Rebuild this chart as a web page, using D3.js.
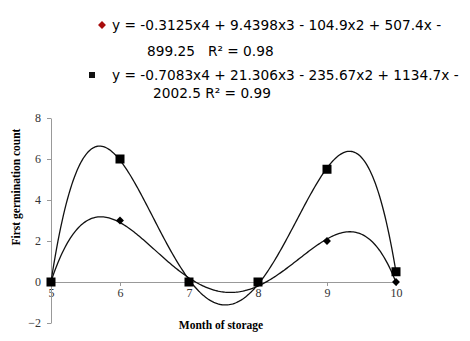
<!DOCTYPE html>
<html lang="en">
  <head>
    <meta charset="UTF-8" />
    <title>First germination count</title>
    <style>
      body { margin: 0; background: #fff; }
      svg { display: block; }
      text { white-space: pre; }
    </style>
  </head>
  <body>
    <svg width="470" height="341"></svg>

    <script src="https://d3js.org/d3.v7.min.js"></script>
    <script>
      (function () {
        "use strict";

        // data
        var months = [5, 6, 7, 8, 9, 10];
        var diamondValues = [0, 3, 0, 0, 2, 0];
        var squareValues = [0, 6, 0, 0, 5.5, 0.5];
        var yTicks = [-2, 0, 2, 4, 6, 8];
        var legendLines = [
          ["y = -0.3125x4 + 9.4398x3 - 104.9x2 + 507.4x -", "899.25   R² = 0.98"],
          ["y = -0.7083x4 + 21.306x3 - 235.67x2 + 1134.7x -", "2002.5 R² = 0.99"]
        ];

        var svg = d3.select("svg");

        var x = d3.scaleLinear().domain([5, 10]).range([51, 396]);
        var y = d3.scaleLinear().domain([-2, 8]).range([323, 118]);

        // polynomial (order 4) least squares trendline, like the spreadsheet one
        function polyFit(xs, ys, order) {
          var n = order + 1, c = 7.5;
          var A = [], i, j, k;
          for (i = 0; i < n; i++) {
            A.push([]);
            for (j = 0; j <= n; j++) A[i].push(0);
          }
          xs.forEach(function (xv, p) {
            var t = xv - c;
            for (i = 0; i < n; i++) {
              for (j = 0; j < n; j++) A[i][j] += Math.pow(t, i + j);
              A[i][n] += ys[p] * Math.pow(t, i);
            }
          });
          for (i = 0; i < n; i++) {
            var m = i;
            for (k = i + 1; k < n; k++) if (Math.abs(A[k][i]) > Math.abs(A[m][i])) m = k;
            var tmp = A[i]; A[i] = A[m]; A[m] = tmp;
            for (k = i + 1; k < n; k++) {
              var f = A[k][i] / A[i][i];
              for (j = i; j <= n; j++) A[k][j] -= f * A[i][j];
            }
          }
          var coef = new Array(n);
          for (i = n - 1; i >= 0; i--) {
            var s = A[i][n];
            for (j = i + 1; j < n; j++) s -= A[i][j] * coef[j];
            coef[i] = s / A[i][i];
          }
          return function (xv) {
            var t = xv - c, v = 0;
            for (var q = n - 1; q >= 0; q--) v = v * t + coef[q];
            return v;
          };
        }

        var grid = d3.range(5, 10.0001, 0.02);
        var line = d3.line()
          .x(function (d) { return x(d[0]); })
          .y(function (d) { return y(d[1]); });

        // axes
        var xAxis = svg.append("g")
          .attr("transform", "translate(0," + y(0) + ")")
          .call(d3.axisBottom(x).tickValues(months).tickFormat(d3.format("d"))
            .tickSize(4).tickSizeOuter(0).tickPadding(2));
        var yAxis = svg.append("g")
          .attr("transform", "translate(" + x(5) + ",0)")
          .call(d3.axisLeft(y).tickValues(yTicks).tickFormat(d3.format("d"))
            .tickSize(4).tickSizeOuter(0).tickPadding(6));

        [xAxis, yAxis].forEach(function (g) {
          g.select(".domain").attr("stroke", "#999");
          g.selectAll(".tick line").attr("stroke", "#999");
          g.selectAll("text")
            .attr("font-family", "Liberation Serif, serif")
            .attr("font-size", 12)
            .attr("fill", "#333");
        });

        // trendlines
        [diamondValues, squareValues].forEach(function (vals) {
          var fit = polyFit(months, vals, 4);
          svg.append("path")
            .datum(grid.map(function (g) { return [g, fit(g)]; }))
            .attr("d", line)
            .attr("fill", "none")
            .attr("stroke", "#111")
            .attr("stroke-width", 1.3);
        });

        // markers
        svg.append("g").selectAll("rect")
          .data(months.map(function (m, i) { return [m, diamondValues[i]]; }))
          .join("rect")
          .attr("x", -2.8).attr("y", -2.8)
          .attr("width", 5.6).attr("height", 5.6)
          .attr("transform", function (d) {
            return "translate(" + x(d[0]) + "," + y(d[1]) + ") rotate(45)";
          })
          .attr("fill", "#000");

        svg.append("g").selectAll("rect")
          .data(months.map(function (m, i) { return [m, squareValues[i]]; }))
          .join("rect")
          .attr("x", function (d) { return x(d[0]) - 4.5; })
          .attr("y", function (d) { return y(d[1]) - 4.5; })
          .attr("width", 9)
          .attr("height", 9)
          .attr("fill", "#000");

        // axis titles
        svg.append("text")
          .attr("transform", "translate(20,187) rotate(-90)")
          .attr("text-anchor", "middle")
          .attr("font-family", "Liberation Serif, serif")
          .attr("font-weight", "bold")
          .attr("font-size", 11.5)
          .text("First germination count");

        svg.append("text")
          .attr("x", 221)
          .attr("y", 329)
          .attr("text-anchor", "middle")
          .attr("font-family", "Liberation Serif, serif")
          .attr("font-weight", "bold")
          .attr("font-size", 11.5)
          .text("Month of storage");

        // legend
        var legend = svg.append("g")
          .attr("font-family", "DejaVu Sans, Verdana, sans-serif")
          .attr("font-size", 13.7)
          .attr("fill", "#000");

        legend.append("rect")
          .attr("x", -2.8).attr("y", -2.8).attr("width", 5.6).attr("height", 5.6)
          .attr("transform", "translate(102,25) rotate(45)")
          .attr("fill", "#a80c0c");
        legend.append("text").attr("x", 112).attr("y", 30).text(legendLines[0][0]);
        legend.append("text").attr("x", 147).attr("y", 56).text(legendLines[0][1]);

        legend.append("rect")
          .attr("x", 89).attr("y", 72).attr("width", 6).attr("height", 6)
          .attr("fill", "#111");
        legend.append("text").attr("x", 112).attr("y", 80).text(legendLines[1][0]);
        legend.append("text").attr("x", 153).attr("y", 98).text(legendLines[1][1]);
      })();
    </script>
  </body>
</html>
